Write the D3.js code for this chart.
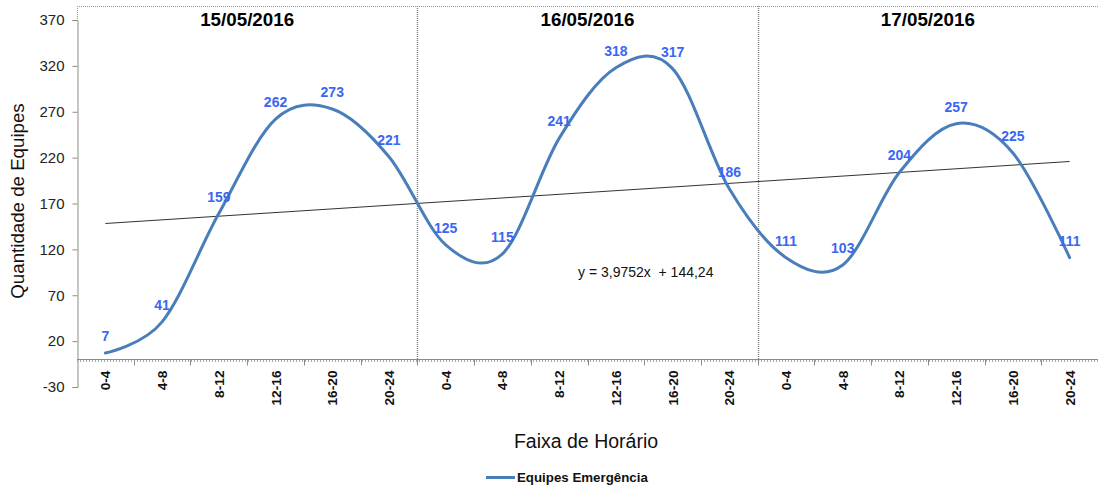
<!DOCTYPE html>
<html>
<head>
<meta charset="utf-8">
<script src="https://cdn.jsdelivr.net/npm/d3@7"></script>
<style>
  html, body { margin: 0; padding: 0; background: #fff; }
  svg { display: block; font-family: "Liberation Sans", Arial, sans-serif; }
</style>
</head>
<body>
<svg id="chart" width="1098" height="488"></svg>
<script>
// Time slots (4-hour bands) repeated for each day
const slots = ["0-4", "4-8", "8-12", "12-16", "16-20", "20-24"];
const days = ["15/05/2016", "16/05/2016", "17/05/2016"];
// Emergency teams per slot, one array per day
const day1 = [7, 41, 159, 262, 273, 221];
const day2 = [125, 115, 241, 318, 317, 186];
const day3 = [111, 103, 204, 257, 225, 111];
const yTicks = [-30, 20, 70, 120, 170, 220, 270, 320, 370];
// Linear trend: y = a*x + b, x = 1..18
const trendA = 3.9752, trendB = 144.24;
const trendLabel = "y = 3,9752x  + 144,24";
const seriesName = "Equipes Emergência";

const values = [...day1, ...day2, ...day3];
const points = values.map((v, i) => ({ i, v, slot: slots[i % slots.length] }));

const svg = d3.select("#chart");
const plotLeft = 77, plotRight = 1098, plotTop = 20, plotBottom = 387;

const x = d3.scaleBand().domain(d3.range(values.length)).range([plotLeft, plotRight]).padding(0);
const y = d3.scaleLinear().domain([-30, 370]).range([plotBottom, plotTop]);
const cx = i => x(i) + x.bandwidth() / 2;

const axisGray = "#8c8c8c";

// Dotted frame on top and vertical separators between days
svg.append("line")
  .attr("x1", plotLeft).attr("x2", plotRight).attr("y1", 6.5).attr("y2", 6.5)
  .attr("stroke", "#999").attr("stroke-width", 1).attr("stroke-dasharray", "1,1");
svg.append("line")
  .attr("x1", plotLeft + 0.5).attr("x2", plotLeft + 0.5).attr("y1", 6).attr("y2", plotTop)
  .attr("stroke", "#999").attr("stroke-width", 1).attr("stroke-dasharray", "1,1");
[6, 12].forEach(k => {
  const xx = Math.round(x(k)) + 0.5;
  svg.append("line")
    .attr("x1", xx).attr("x2", xx).attr("y1", 6).attr("y2", y(0) + 3)
    .attr("stroke", "#888").attr("stroke-width", 1.5).attr("stroke-dasharray", "1,1");
});

// Y axis
const yAxis = d3.axisLeft(y).tickValues(yTicks).tickFormat(d => String(d)).tickSize(5).tickPadding(8);
const gy = svg.append("g").attr("transform", `translate(${plotLeft + 0.5},0)`).call(yAxis);
gy.select(".domain").attr("stroke", axisGray);
gy.selectAll(".tick line").attr("stroke", axisGray);
gy.selectAll(".tick text").attr("font-size", 15).attr("fill", "#222")
  .attr("font-family", "Liberation Sans, Arial, sans-serif");

// X axis at zero with minor tick marks
const y0 = Math.round(y(0)) + 0.5;
svg.append("line")
  .attr("x1", plotLeft).attr("x2", plotRight).attr("y1", y0 + 1.5).attr("y2", y0 + 1.5)
  .attr("stroke", "#aaa").attr("stroke-width", 2).attr("stroke-dasharray", "1,2");
svg.append("line")
  .attr("x1", plotLeft).attr("x2", plotRight).attr("y1", y0).attr("y2", y0)
  .attr("stroke", axisGray).attr("stroke-width", 1.2);
d3.range(1, values.length).forEach(k => {
  const xx = Math.round(x(k)) + 0.5;
  svg.append("line").attr("x1", xx).attr("x2", xx).attr("y1", y0).attr("y2", y0 + 6)
    .attr("stroke", axisGray);
});

// Category labels
svg.append("g").selectAll("text").data(points).join("text")
  .attr("transform", d => `translate(${cx(d.i) + 5},${y0 + 11}) rotate(-90)`)
  .attr("text-anchor", "end")
  .attr("font-size", 13.7).attr("font-weight", "bold").attr("fill", "#111")
  .text(d => d.slot);

// Day titles
svg.append("g").selectAll("text").data(days).join("text")
  .attr("x", (d, k) => (x(k * 6) + x(k * 6 + 5) + x.bandwidth()) / 2)
  .attr("y", 26)
  .attr("text-anchor", "middle")
  .attr("font-size", 18.8).attr("font-weight", "bold").attr("fill", "#000")
  .text(d => d);

// Trend line
const n = values.length;
svg.append("line")
  .attr("x1", cx(0)).attr("y1", y(trendA * 1 + trendB))
  .attr("x2", cx(n - 1)).attr("y2", y(trendA * n + trendB))
  .attr("stroke", "#333").attr("stroke-width", 1);

svg.append("text")
  .attr("x", 578).attr("y", 277)
  .attr("font-size", 14).attr("fill", "#111")
  .style("white-space", "pre")
  .text(trendLabel);

// Smoothed series line
const line = d3.line().x(d => cx(d.i)).y(d => y(d.v)).curve(d3.curveCardinal.tension(0));
svg.append("path").datum(points)
  .attr("d", line)
  .attr("fill", "none").attr("stroke", "#4A7EBB").attr("stroke-width", 3)
  .attr("stroke-linecap", "round");

// Value labels
svg.append("g").selectAll("text").data(points).join("text")
  .attr("x", d => cx(d.i))
  .attr("y", d => y(d.v) - 12)
  .attr("text-anchor", "middle")
  .attr("font-size", 14).attr("font-weight", "bold").attr("fill", "#3A67F2")
  .text(d => d.v);

// Axis titles
svg.append("text")
  .attr("transform", `translate(24,201) rotate(-90)`)
  .attr("text-anchor", "middle")
  .attr("font-size", 18.7).attr("fill", "#111")
  .text("Quantidade de Equipes");
svg.append("text")
  .attr("x", 586).attr("y", 448)
  .attr("text-anchor", "middle")
  .attr("font-size", 19.5).attr("fill", "#111")
  .text("Faixa de Horário");

// Legend
svg.append("line")
  .attr("x1", 486).attr("x2", 515).attr("y1", 477.5).attr("y2", 477.5)
  .attr("stroke", "#4A7EBB").attr("stroke-width", 3);
svg.append("text")
  .attr("x", 517).attr("y", 482)
  .attr("font-size", 13.3).attr("font-weight", "bold").attr("fill", "#111")
  .text(seriesName);
</script>
</body>
</html>
